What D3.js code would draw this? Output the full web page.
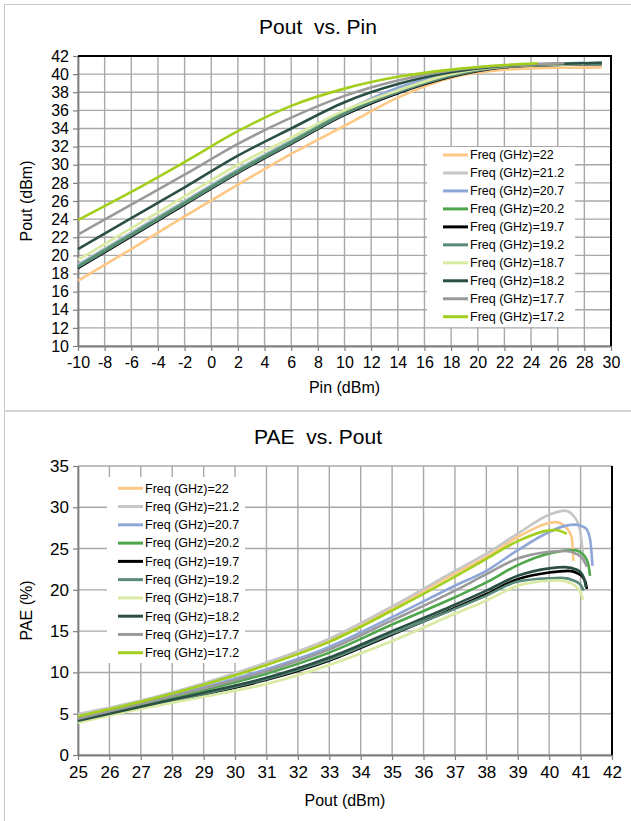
<!DOCTYPE html>
<html>
<head>
<meta charset="utf-8">
<script src="https://cdn.jsdelivr.net/npm/d3@7"></script>
<style>
  body { margin: 0; background: #fff; }
  svg { font-family: "Liberation Sans", Arial, sans-serif; }
</style>
</head>
<body>
<div class="graph"></div>
<script>
// legend order, top to bottom
const freqs = ["22", "21.2", "20.7", "20.2", "19.7", "19.2", "18.7", "18.2", "17.7", "17.2"];
const colors = ["#fdc886", "#c6c6c6", "#8ea6d8", "#4ea64a", "#000000", "#5a8a78", "#d9eaa2", "#2a4f45", "#9a9a9a", "#a2cf1c"];

// Pout vs. Pin
const pinGrid = [-10, -6, -2, 2, 6, 10, 14, 18, 22, 24.5, 26.5, 28, 29.3];
const pout22   = [17.2, 20.7, 24.3, 27.8, 31.2, 34.3, 37.4, 39.6, 40.5, 40.65, 40.7, 40.72, 40.75];
const pout21_2 = [19.0, 22.5, 26.0, 29.5, 32.7, 35.8, 38.3, 40.0, 40.9, 41.05, 41.12, 41.15, null];
const pout20_7 = [18.9, 22.4, 25.9, 29.4, 32.6, 35.9, 38.5, 40.1, 40.95, 41.1, 41.2, 41.25, null];
const pout20_2 = [18.8, 22.3, 25.8, 29.3, 32.5, 35.7, 38.1, 39.9, 40.9, 41.05, 41.15, 41.2, 41.25];
const pout19_7 = [18.6, 22.1, 25.6, 29.1, 32.3, 35.5, 37.9, 39.7, 40.75, 40.95, 41.05, 41.1, 41.1];
const pout19_2 = [18.7, 22.2, 25.7, 29.2, 32.4, 35.6, 38.0, 39.8, 40.8, 41.0, 41.05, 41.1, 41.1];
const pout18_7 = [19.5, 23.0, 26.5, 30.0, 33.0, 36.0, 38.2, 40.0, 40.85, 41.0, 41.1, 41.15, null];
const pout18_2 = [20.7, 24.1, 27.5, 31.0, 34.0, 36.9, 38.9, 40.2, 40.9, 41.05, 41.15, 41.2, 41.25];
const pout17_7 = [22.3, 25.6, 28.9, 32.3, 35.2, 37.6, 39.3, 40.4, 40.95, 41.1, 41.2, null, null];
const pout17_2 = [23.9, 27.0, 30.3, 33.7, 36.5, 38.4, 39.7, 40.5, 41.0, 41.2, null, null, null];
const poutSeries = [pout22, pout21_2, pout20_7, pout20_2, pout19_7, pout19_2, pout18_7, pout18_2, pout17_7, pout17_2];

// PAE vs. Pout (x values, y values per frequency)
const paeX22   = [25, 27, 29, 31, 33, 35, 37, 38, 39, 40, 40.2, 40.5, 40.72, 40.77];
const paeY22   = [4.85, 6.5, 8.6, 11.1, 13.95, 17.8, 22.0, 24.0, 26.4, 28.1, 28.2, 27.7, 26.3, 23.5];
const paeX21_2 = [25, 27, 29, 31, 33, 35, 37, 38, 39, 40, 40.5, 40.85, 41.0, 41.1];
const paeY21_2 = [4.95, 6.6, 8.7, 11.2, 14.1, 18.0, 22.3, 24.4, 26.8, 29.1, 29.6, 28.6, 26.8, 23.3];
const paeX20_7 = [25, 27, 29, 31, 33, 35, 37, 38, 39, 40, 40.5, 40.85, 41.15, 41.3, 41.38];
const paeY20_7 = [4.5, 6.3, 8.2, 10.4, 13.1, 16.7, 20.5, 22.3, 24.8, 27.0, 27.75, 27.9, 27.5, 26.2, 22.9];
const paeX20_2 = [25, 27, 29, 31, 33, 35, 37, 38, 39, 40, 40.5, 40.8, 41.1, 41.25, 41.3];
const paeY20_2 = [4.3, 6.05, 7.85, 9.85, 12.4, 15.8, 19.1, 20.9, 23.0, 24.4, 24.75, 24.8, 24.2, 23.0, 21.7];
const paeX19_7 = [25, 27, 29, 31, 33, 35, 37, 38, 39, 40, 40.6, 41.0, 41.15, 41.2];
const paeY19_7 = [4.05, 5.75, 7.35, 9.1, 11.45, 14.6, 17.8, 19.5, 21.3, 22.1, 22.3, 21.8, 21.0, 20.1];
const paeX19_2 = [25, 27, 29, 31, 33, 35, 37, 38, 39, 40, 40.4, 40.8, 41.0, 41.1];
const paeY19_2 = [4.1, 5.8, 7.4, 9.2, 11.55, 14.7, 17.7, 19.3, 21.0, 21.4, 21.45, 21.1, 20.6, 19.9];
const paeX18_7 = [25, 27, 29, 31, 33, 35, 37, 38, 39, 40, 40.3, 40.7, 40.95, 41.08];
const paeY18_7 = [3.9, 5.6, 7.05, 8.6, 10.9, 13.8, 17.1, 18.7, 20.5, 21.1, 21.15, 20.8, 20.0, 18.8];
const paeX18_2 = [25, 27, 29, 31, 33, 35, 37, 38, 39, 40, 40.5, 40.9, 41.1, 41.17];
const paeY18_2 = [4.15, 5.85, 7.55, 9.35, 11.8, 15.0, 18.2, 19.9, 21.7, 22.6, 22.75, 22.4, 21.5, 20.3];
const paeX17_7 = [25, 27, 29, 31, 33, 35, 37, 38, 39, 40, 40.5, 40.9, 41.1, 41.2];
const paeY17_7 = [4.4, 6.2, 8.05, 10.15, 12.8, 16.3, 19.9, 21.9, 23.8, 24.6, 24.7, 24.3, 23.6, 22.8];
const paeX17_2 = [25, 27, 29, 31, 33, 35, 37, 38, 39, 40, 40.2, 40.56];
const paeY17_2 = [4.7, 6.45, 8.5, 10.9, 13.7, 17.5, 21.6, 23.75, 25.9, 27.2, 27.25, 26.8];
const paeXSeries = [paeX22, paeX21_2, paeX20_7, paeX20_2, paeX19_7, paeX19_2, paeX18_7, paeX18_2, paeX17_7, paeX17_2];
const paeYSeries = [paeY22, paeY21_2, paeY20_7, paeY20_2, paeY19_7, paeY19_2, paeY18_7, paeY18_2, paeY17_7, paeY17_2];

const pinTicks = d3.range(-10, 31, 2);
const poutTicks = d3.range(10, 43, 2);
const poutXTicks = d3.range(25, 43, 1);
const paeTicks = d3.range(0, 36, 5);

const W = 631, H = 821;
const svg = d3.select(".graph").append("svg")
  .attr("width", W).attr("height", H);

// chart frames
svg.append("rect").attr("x", 4.5).attr("y", 4.5).attr("width", W).attr("height", 406.5)
  .attr("fill", "none").attr("stroke", "#c8c8c8");
svg.append("rect").attr("x", 4.5).attr("y", 411).attr("width", W).attr("height", H)
  .attr("fill", "none").attr("stroke", "#c8c8c8");

function drawChart(opt) {
  const g = svg.append("g");
  const x = d3.scaleLinear().domain(opt.xDomain).range([78, opt.right]);
  const y = d3.scaleLinear().domain(opt.yDomain).range([opt.bottom, opt.top]);

  // grid
  g.append("g").selectAll("line").data(opt.xTicks).enter().append("line")
    .attr("x1", d => x(d)).attr("x2", d => x(d))
    .attr("y1", opt.top).attr("y2", opt.bottom)
    .attr("stroke", "#a8a8a8").attr("stroke-width", 1.4);
  g.append("g").selectAll("line").data(opt.yTicks).enter().append("line")
    .attr("x1", 78).attr("x2", opt.right)
    .attr("y1", d => y(d)).attr("y2", d => y(d))
    .attr("stroke", "#a8a8a8").attr("stroke-width", 1.4);

  // legend box (covers grid)
  g.append("rect").attr("x", opt.legend.x).attr("y", opt.legend.y)
    .attr("width", opt.legend.w).attr("height", opt.legend.h).attr("fill", "#fff");

  // axes (plain hyphen minus like the original)
  const fmt = d => String(d);
  const xAxis = g.append("g").attr("transform", "translate(0," + opt.bottom + ")")
    .call(d3.axisBottom(x).tickValues(opt.xTicks).tickFormat(fmt).tickSize(5).tickSizeOuter(0).tickPadding(6));
  const yAxis = g.append("g").attr("transform", "translate(78,0)")
    .call(d3.axisLeft(y).tickValues(opt.yTicks).tickFormat(fmt).tickSize(5).tickSizeOuter(0).tickPadding(4));
  [xAxis, yAxis].forEach(a => {
    a.select(".domain").attr("stroke", "#7f7f7f").attr("stroke-width", 1.8);
    a.selectAll(".tick line").attr("stroke", "#7f7f7f").attr("stroke-width", 1.2);
    a.selectAll(".tick text").attr("fill", "#000")
      .style("font-size", opt.tickFont + "px")
      .style("font-family", "'Liberation Sans', Arial, sans-serif");
  });

  // borders
  g.append("line").attr("x1", opt.right).attr("x2", opt.right)
    .attr("y1", opt.top).attr("y2", opt.bottom)
    .attr("stroke", "#000").attr("stroke-width", 2);
  if (opt.topBorder) {
    g.append("line").attr("x1", 78).attr("x2", opt.right + 1)
      .attr("y1", opt.top).attr("y2", opt.top)
      .attr("stroke", "#000").attr("stroke-width", 2);
  }

  // series
  const line = d3.line()
    .defined(d => d[1] != null)
    .x(d => x(d[0])).y(d => y(d[1]))
    .curve(d3.curveMonotoneX);
  opt.series.forEach((pts, i) => {
    g.append("path").datum(pts)
      .attr("fill", "none").attr("stroke", colors[i])
      .attr("stroke-width", 2.6).attr("stroke-linejoin", "round")
      .attr("d", line);
  });

  // legend entries
  const lg = g.append("g").selectAll("g").data(freqs).enter().append("g")
    .attr("transform", (d, i) => "translate(0," + (opt.legend.y0 + i * opt.legend.step) + ")");
  lg.append("line").attr("x1", opt.legend.lx).attr("x2", opt.legend.lx + 25)
    .attr("stroke", (d, i) => colors[i]).attr("stroke-width", 3);
  lg.append("text").attr("x", opt.legend.lx + 27).attr("dy", "0.35em")
    .style("font-size", "12.5px").text(d => "Freq (GHz)=" + d);

  // titles
  g.append("text").attr("x", 318).attr("y", opt.titleY).attr("text-anchor", "middle")
    .style("font-size", "21px").style("white-space", "pre").text(opt.title);
  g.append("text").attr("x", (78 + opt.right) / 2).attr("y", opt.xTitleY).attr("text-anchor", "middle")
    .style("font-size", "16px").text(opt.xTitle);
  g.append("text").attr("transform", "translate(32," + (opt.top + opt.bottom) / 2 + ") rotate(-90)")
    .attr("text-anchor", "middle").style("font-size", "16px").text(opt.yTitle);
}

drawChart({
  xDomain: [-10, 30], yDomain: [10, 42],
  right: 611, top: 56, bottom: 346,
  xTicks: pinTicks, yTicks: poutTicks, tickFont: 16, topBorder: true,
  legend: {x: 427, y: 147, w: 148, h: 180, y0: 155, step: 17.97, lx: 443},
  series: poutSeries.map(s => s.map((v, j) => [pinGrid[j], v])),
  title: "Pout  vs. Pin", titleY: 34, xTitle: "Pin (dBm)", xTitleY: 393, yTitle: "Pout (dBm)"
});

drawChart({
  xDomain: [25, 42], yDomain: [0, 35],
  right: 612, top: 466, bottom: 755,
  xTicks: poutXTicks, yTicks: paeTicks, tickFont: 17, topBorder: false,
  legend: {x: 107, y: 477, w: 138, h: 186, y0: 488.3, step: 18.27, lx: 118},
  series: paeXSeries.map((xs, i) => xs.map((v, j) => [v, paeYSeries[i][j]])),
  title: "PAE  vs. Pout", titleY: 444, xTitle: "Pout (dBm)", xTitleY: 806, yTitle: "PAE (%)"
});
</script>
</body>
</html>
